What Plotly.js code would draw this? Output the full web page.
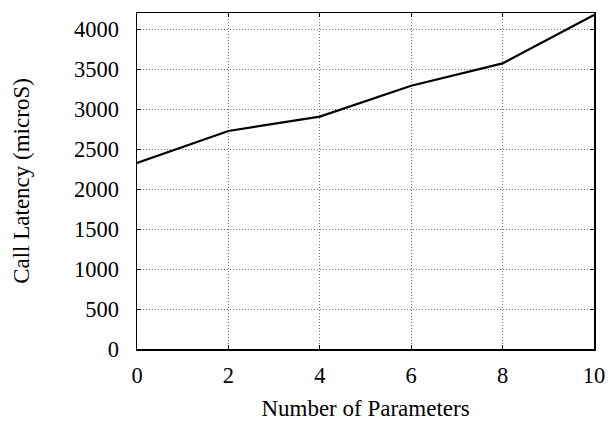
<!DOCTYPE html>
<html>
<head>
<script src="https://cdn.plot.ly/plotly-3.0.1.min.js"></script>
<style>html,body{margin:0;padding:0;background:#fff;}</style>
</head>
<body>
<div id="chart" style="width:612px;height:421px;"></div>
<script>
const numParams = [0, 2, 4, 6, 8, 10];
const latency = [2325, 2725, 2905, 3290, 3570, 4175];
const xTicks = [0, 2, 4, 6, 8, 10];
const yTicks = [0, 500, 1000, 1500, 2000, 2500, 3000, 3500, 4000];

const font = {family: 'Liberation Serif, Times New Roman, serif', size: 23, color: '#000'};
const tickFont = {family: 'Liberation Serif, Times New Roman, serif', size: 22.5, color: '#000'};

Plotly.newPlot('chart', [{
  x: numParams, y: latency, type: 'scatter', mode: 'lines',
  line: {color: '#000', width: 2.2}, showlegend: false
}], {
  width: 612, height: 421,
  margin: {l: 137, r: 18, t: 13, b: 72},
  paper_bgcolor: '#fff', plot_bgcolor: '#fff',
  font: font,
  xaxis: {
    range: [0, 10], tickvals: xTicks, ticktext: xTicks.map(String),
    showgrid: true, gridcolor: '#777', griddash: '1px,2px', gridwidth: 1,
    zeroline: false, showline: true, linecolor: '#000', linewidth: 1.5, mirror: 'ticks',
    ticks: 'inside', ticklen: 4, tickcolor: '#000', tickfont: tickFont,
    ticklabelstandoff: 5, automargin: false,
    title: {text: 'Number of Parameters', font: font, standoff: 14}
  },
  yaxis: {
    range: [0, 4200], tickvals: yTicks, ticktext: yTicks.map(String),
    showgrid: true, gridcolor: '#777', griddash: '1px,2px', gridwidth: 1,
    zeroline: false, showline: true, linecolor: '#000', linewidth: 1.5, mirror: 'ticks',
    ticks: 'inside', ticklen: 4, tickcolor: '#000', tickfont: tickFont,
    ticklabelstandoff: 12, automargin: false,
    title: {text: 'Call Latency (microS)', font: font, standoff: 38}
  }
}, {staticPlot: true, displayModeBar: false});
</script>
</body>
</html>
